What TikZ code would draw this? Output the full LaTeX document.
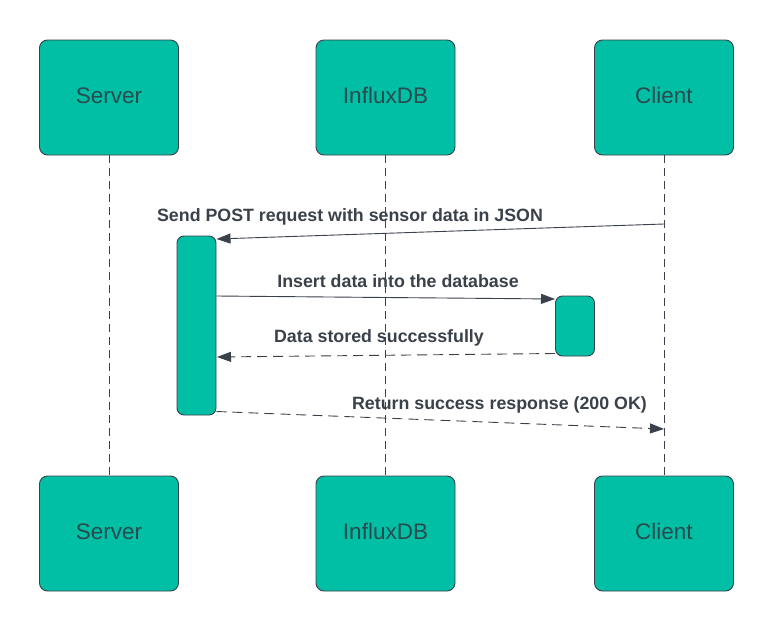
\documentclass[tikz,border=0pt]{standalone}
\usepackage{fontspec}
\setmainfont{Liberation Sans}
\usetikzlibrary{arrows.meta}
\definecolor{tealfill}{HTML}{00BFA5}
\definecolor{edgecol}{HTML}{3A414A}
\definecolor{boxtext}{HTML}{2B4A4E}
\newcommand{\boxlbl}[1]{\raisebox{3.5pt}{#1}}
\begin{document}
\begin{tikzpicture}[x=1pt,y=-1pt,
 actor/.style={draw=edgecol, fill=tealfill, rounded corners=8pt, line width=0.9pt, minimum width=139pt, minimum height=115pt, inner sep=0pt, font=\fontsize{22.5}{26}\selectfont, text=boxtext},
 actbar/.style={draw=edgecol, fill=tealfill, rounded corners=7pt, line width=0.9pt, minimum width=39pt, inner sep=0pt},
 life/.style={draw=edgecol, line width=0.9pt, dash pattern=on 8pt off 5pt},
 msg/.style={draw=edgecol, line width=0.9pt, -{Triangle[length=14pt,width=10pt]}},
 ret/.style={msg, dash pattern=on 10pt off 6pt},
 lbl/.style={font=\bfseries\fontsize{17.8}{20}\selectfont, text=edgecol, inner sep=0pt}
]
\useasboundingbox (0,0) rectangle (774,632);
\fill[white] (0,0) rectangle (774,632);
% actors
\node[actor] (srvT) at (109,97.5) {\boxlbl{Server}};
\node[actor] (dbT) at (385.5,97.5) {\boxlbl{InfluxDB}};
\node[actor] (cliT) at (664,97.5) {\boxlbl{Client}};
\node[actor] (srvB) at (109,533.5) {\boxlbl{Server}};
\node[actor] (dbB) at (385.5,533.5) {\boxlbl{InfluxDB}};
\node[actor] (cliB) at (664,533.5) {\boxlbl{Client}};
% lifelines
\draw[life] (srvT.south) -- (srvB.north);
\draw[life] (dbT.south) -- (dbB.north);
\draw[life] (cliT.south) -- (cliB.north);
% activations
\node[actbar, minimum height=179pt] (act1) at (196.5,325.5) {};
\node[actbar, minimum height=60pt] (act2) at (575,326) {};
% endpoints
\coordinate (m1s) at (664,224);
\coordinate (m1e) at (216.5,239);
\coordinate (m2s) at (216.5,296);
\coordinate (m2e) at (555,299);
\coordinate (m3s) at (555,353.5);
\coordinate (m3e) at (217,357);
\coordinate (m4s) at (216.5,411.5);
\coordinate (m4e) at (664,429);
% messages
\draw[msg] (m1s) -- (m1e);
\draw[msg] (m2s) -- (m2e);
\draw[ret] (m3s) -- (m3e);
\draw[ret] (m4s) -- (m4e);
% labels
\node[lbl] (l1) at (350,216.5) {Send POST request with sensor data in JSON};
\node[lbl] (l2) at (398,281) {Insert data into the database};
\node[lbl] (l3) at (379,338) {Data stored successfully};
\node[lbl] (l4) at (499.5,405) {Return success response (200 OK)};
\end{tikzpicture}
\end{document}
